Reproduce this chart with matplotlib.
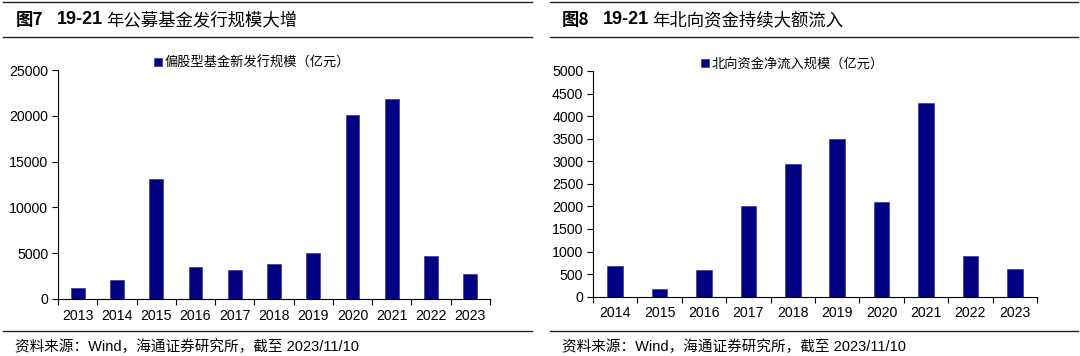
import numpy as np
import matplotlib.pyplot as plt
from matplotlib.lines import Line2D

# 数据
years_fund = ['2013', '2014', '2015', '2016', '2017', '2018', '2019', '2020', '2021', '2022', '2023']
fund_issue = [1200, 2050, 13100, 3530, 3140, 3860, 5000, 20100, 21800, 4740, 2770]

years_north = ['2014', '2015', '2016', '2017', '2018', '2019', '2020', '2021', '2022', '2023']
north_flow = [680, 180, 600, 2000, 2940, 3500, 2090, 4300, 900, 620]

W, H = 1080, 356
CJK = ['Noto Sans CJK SC', 'DejaVu Sans']
NUM = ['Liberation Sans', 'Noto Sans CJK SC']
BAR_COLOR = '#000080'
SOURCE = '资料来源：Wind，海通证券研究所，截至 2023/11/10'

fig = plt.figure(figsize=(W / 100, H / 100), dpi=100)


def px(x, y):
    # 像素坐标 -> figure 坐标
    return x / W, 1 - y / H


def hline(x0, x1, y, lw=1.0):
    a, b = px(x0, y)
    c, _ = px(x1, y)
    fig.add_artist(Line2D([a, c], [b, b], color='#222222', lw=lw))


def title(x, y, num, rest):
    fig.text(*px(x, y), '图' + num, family=CJK, fontsize=12.5, fontweight='bold', va='center')
    fig.text(*px(x + 41, y), '19-21', family=NUM, fontsize=13, fontweight='bold', va='center')
    fig.text(*px(x + 90, y), rest, family=CJK, fontsize=12.5, va='center')


def bar_panel(rect, cats, vals, ymax, step, label):
    ax = fig.add_axes(rect)
    x = np.arange(len(cats))
    ax.bar(x, vals, width=0.35, color=BAR_COLOR, edgecolor='#3a3aa0', linewidth=0.5, label=label)
    ax.set_xlim(-0.5, len(cats) - 0.5)
    ax.set_ylim(0, ymax)
    ax.set_yticks(np.arange(0, ymax + 1, step))
    ax.set_xticks(x)
    ax.set_xticklabels(cats)
    ax.set_xticks(np.arange(-0.5, len(cats), 1), minor=True)
    ax.tick_params(axis='x', which='major', length=0, pad=7)
    ax.tick_params(axis='x', which='minor', length=4, width=0.8)
    ax.tick_params(axis='y', length=4, width=0.8, pad=3)
    for t in ax.get_xticklabels() + ax.get_yticklabels():
        t.set_family(NUM)
        t.set_fontsize(10.2)
    for s in ['top', 'right']:
        ax.spines[s].set_visible(False)
    for s in ['left', 'bottom']:
        ax.spines[s].set_linewidth(0.8)
    ax.legend(loc='lower center', bbox_to_anchor=(0.45, 0.95), frameon=False,
              handlelength=0.6, handleheight=0.6, handletextpad=0.2,
              prop={'family': CJK, 'size': 9.5})
    return ax


# 图7
hline(3, 532, 2)
title(16, 20, '7', '年公募基金发行规模大增')
hline(3, 532, 37)
bar_panel([58 / W, 1 - 299 / H, 432 / W, 229 / H], years_fund, fund_issue,
          25000, 5000, '偏股型基金新发行规模（亿元）')
hline(3, 532, 331)
fig.text(*px(15, 347), SOURCE, family=NUM, fontsize=10.5, va='center')

# 图8
hline(550, 1078, 2)
title(562, 20, '8', '年北向资金持续大额流入')
hline(550, 1078, 37)
bar_panel([593 / W, 1 - 296.7 / H, 444 / W, 225.7 / H], years_north, north_flow,
          5000, 500, '北向资金净流入规模（亿元）')
hline(550, 1078, 331)
fig.text(*px(562, 347), SOURCE, family=NUM, fontsize=10.5, va='center')

fig.savefig('out.png', dpi=100)
